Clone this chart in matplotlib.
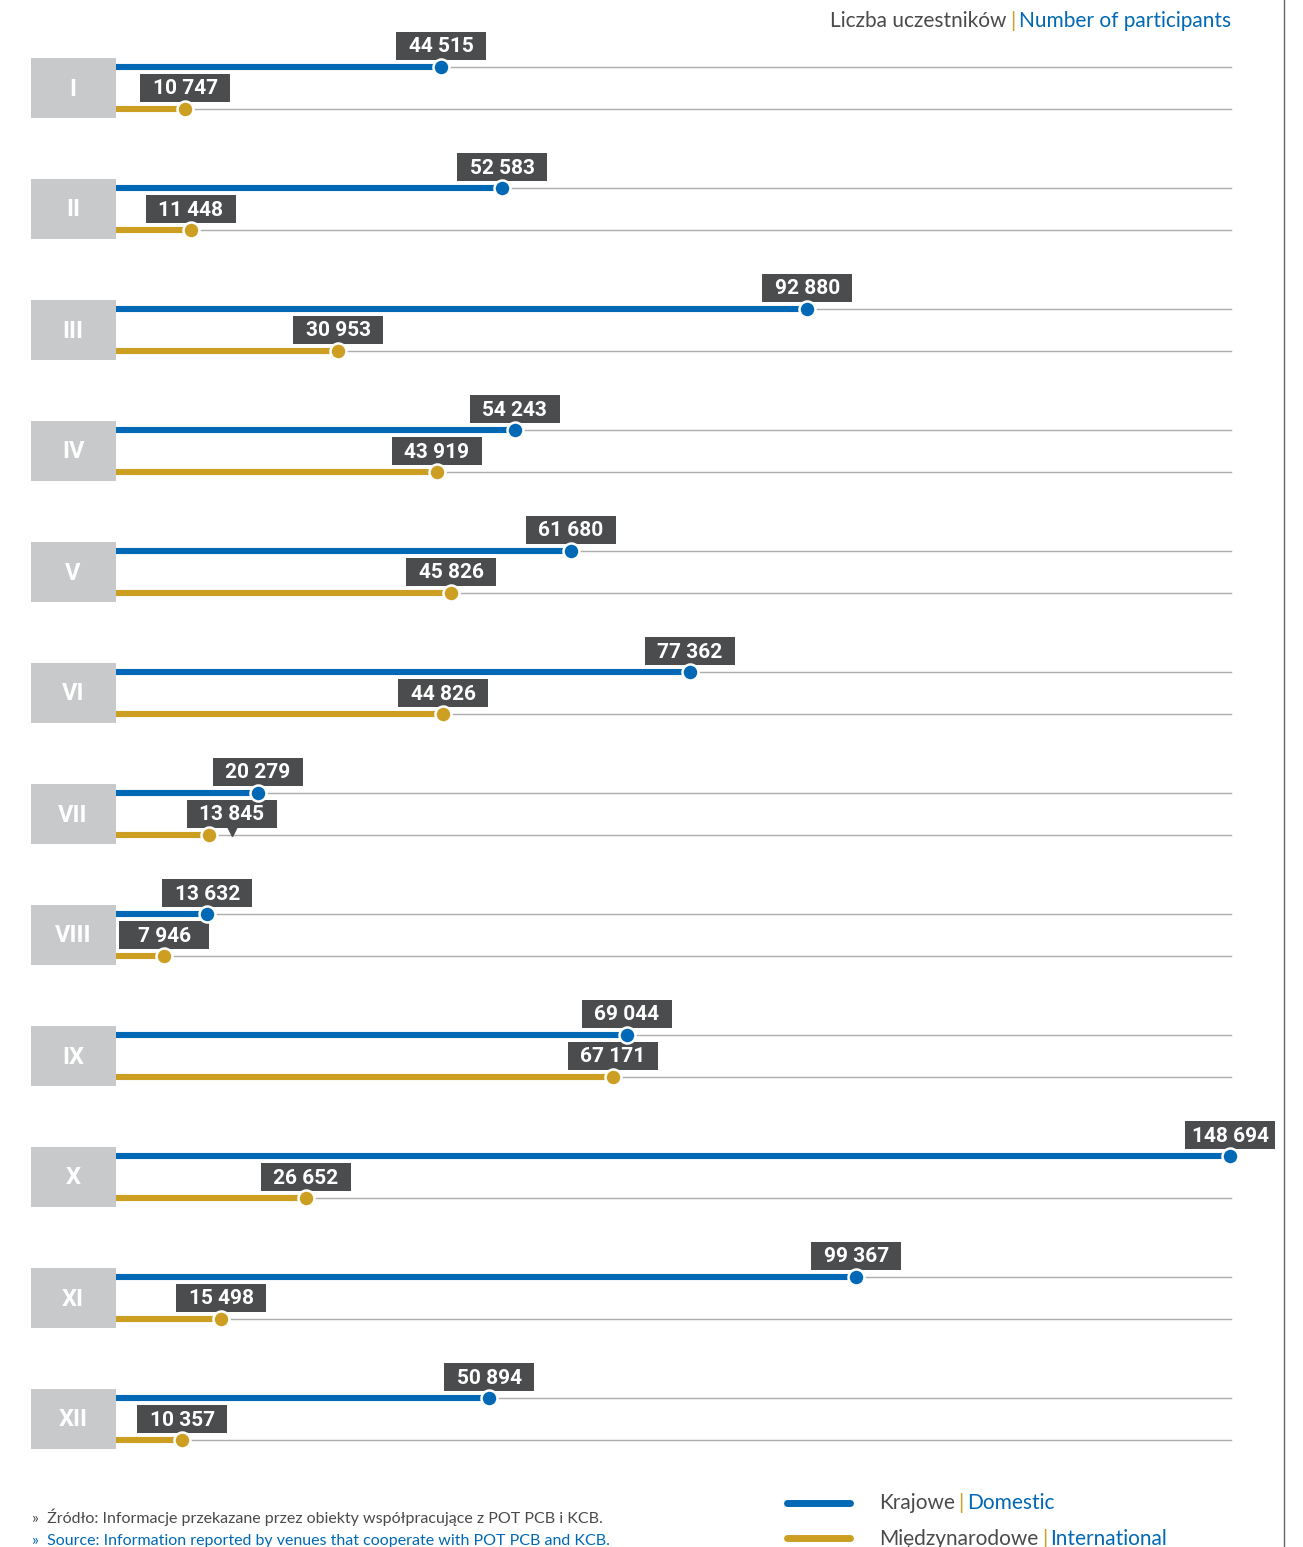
import matplotlib.pyplot as plt
from matplotlib.patches import Rectangle

## Data
months = ['I', 'II', 'III', 'IV', 'V', 'VI', 'VII', 'VIII', 'IX', 'X', 'XI', 'XII']
domestic = [44515, 52583, 92880, 54243, 61680, 77362, 20279, 13632, 69044, 148694, 99367, 50894]
international = [10747, 11448, 30953, 43919, 45826, 44826, 13845, 7946, 67171, 26652, 15498, 10357]

## Style
BLUE = '#0068b4'
GOLD = '#cc9f22'
BOXGRAY = '#c7c9ca'
LABELGRAY = '#4b4c4e'
TEXTGRAY = '#4a4a4a'
FONT = ['Lato', 'DejaVu Sans']
BOLDFONT = ['Roboto', 'DejaVu Sans']

W, H = 1303, 1547
X0_PX, XMAX_PX = 104, 1230      # pixel of value 0 and of the max value
ROW0, ROW_STEP = 67, 121        # pixel row of first domestic line, spacing per month
PAIR_GAP = 42

plt.rcParams['font.family'] = FONT

fig = plt.figure(figsize=(W / 100, H / 100), dpi=100)
ax = fig.add_axes([0, 0, 1, 1])
vmax = max(domestic)
s = (XMAX_PX - X0_PX) / vmax     # px per unit
ax.set_xlim(-X0_PX / s, (W - X0_PX) / s)
ax.set_ylim(H, 0)
ax.axis('off')

def px(p):
  # horizontal pixel -> data value
  return (p - X0_PX) / s

grid_end = px(1231)
box_w, box_h = 90 / s, 28

def label(value, y, dx=0):
  cx = value + dx / s
  ax.add_patch(Rectangle((cx - box_w / 2, y - 7 - box_h), box_w, box_h,
                         facecolor=LABELGRAY, edgecolor='none', zorder=5))
  ax.plot([cx], [y - 5], marker='v', markersize=9, color=LABELGRAY, zorder=4)
  ax.text(cx, y - 7 - box_h / 2 + 1, '{:,}'.format(value).replace(',', ' '),
          color='white', fontsize=15, fontweight='bold', family=BOLDFONT,
          ha='center', va='center', zorder=6)

for i, m in enumerate(months):
  yd = ROW0 + ROW_STEP * i
  yi = yd + PAIR_GAP
  for y in (yd, yi):
    ax.plot([0, grid_end], [y, y], color='#adadad', lw=1, zorder=1)
  ax.plot([0, domestic[i]], [yd, yd], color=BLUE, lw=4.4, solid_capstyle='butt', zorder=2)
  ax.plot([0, international[i]], [yi, yi], color=GOLD, lw=4.4, solid_capstyle='butt', zorder=2)
  ax.plot([domestic[i]], [yd], 'o', color=BLUE, markersize=11.5, mec='white', mew=1.8, zorder=7)
  ax.plot([international[i]], [yi], 'o', color=GOLD, markersize=11.5, mec='white', mew=1.8, zorder=7)
  label(domestic[i], yd)
  label(international[i], yi, dx=23 if m == 'VII' else 0)
  # month box
  yc = (yd + yi) / 2
  ax.add_patch(Rectangle((px(31), yc - 30), px(116) - px(31), 60,
                         facecolor=BOXGRAY, edgecolor='none', zorder=3))
  ax.text(px(73), yc + 1, m, color='white', fontsize=17, fontweight='bold', family=BOLDFONT,
          ha='center', va='center', zorder=4)

def chain(parts, x, y, fontsize, ha='left'):
  # draw multi-coloured text pieces next to each other
  if ha == 'right':
    parts = parts[::-1]
  t = None
  for txt, col, gap in parts:
    if t is None:
      t = ax.text(x, y, txt, color=col, fontsize=fontsize, ha=ha, va='bottom')
    else:
      t = ax.annotate(txt, xy=(1 if ha == 'left' else 0, 0), xycoords=t,
                      xytext=(gap if ha == 'left' else -gap, 0), textcoords='offset points',
                      color=col, fontsize=fontsize, ha=ha, va='bottom')
  return t

# header
chain([('Liczba uczestników', TEXTGRAY, 2.5), ('|', GOLD, 2.5), ('Number of participants', BLUE, 0)],
      px(1231), 31, 15, ha='right')

# legend
ax.plot([px(787), px(850)], [1503, 1503], color=BLUE, lw=5, solid_capstyle='round')
ax.plot([px(787), px(850)], [1538, 1538], color=GOLD, lw=5, solid_capstyle='round')
chain([('Krajowe', TEXTGRAY, 0), ('|', GOLD, 2.5), ('Domestic', BLUE, 2.5)], px(879), 1513, 15)
chain([('Międzynarodowe', TEXTGRAY, 0), ('|', GOLD, 2.5), ('International', BLUE, 2.5)], px(879), 1549, 15)

# source
ax.text(px(32), 1517, '»  Źródło: Informacje przekazane przez obiekty współpracujące z POT PCB i KCB.',
        color=TEXTGRAY, fontsize=11.5, ha='left', va='center')
ax.text(px(32), 1541, '»  Source: Information reported by venues that cooperate with POT PCB and KCB.',
        color=BLUE, fontsize=11.5, ha='left', va='center')

# page border on the right
ax.plot([px(1284), px(1284)], [0, H], color='#666666', lw=1)

fig.savefig('out.png', dpi=100)
